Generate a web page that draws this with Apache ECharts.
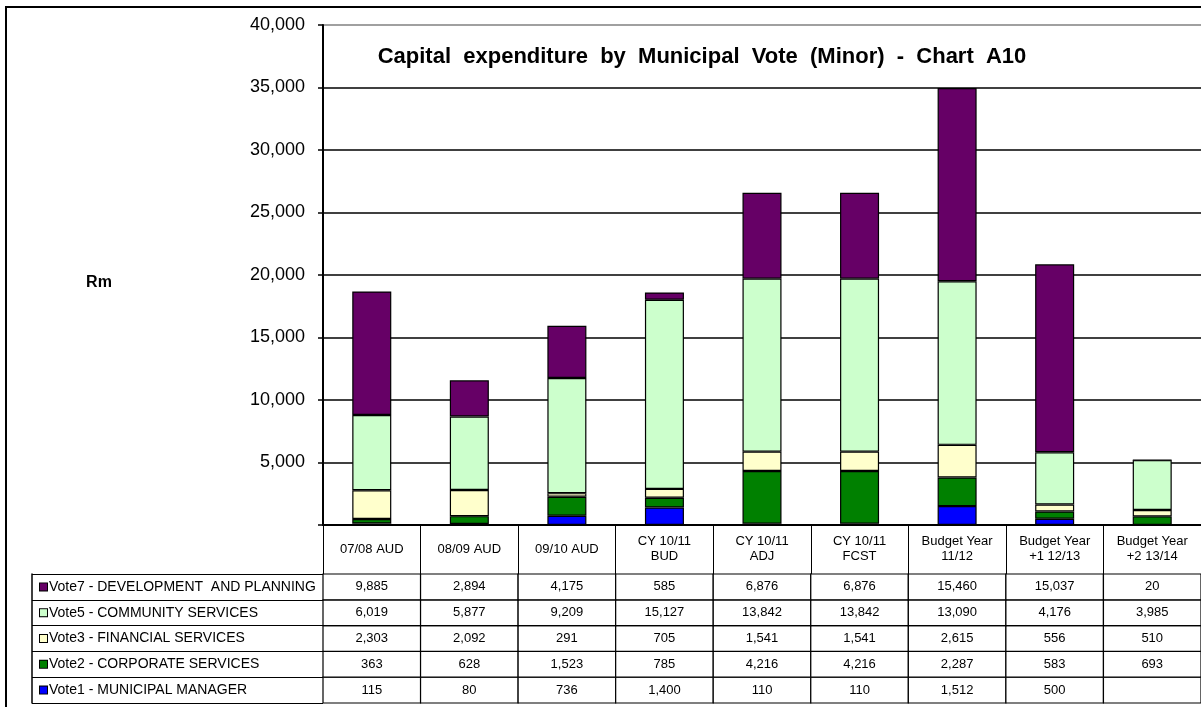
<!DOCTYPE html>
<html>
<head>
<meta charset="utf-8">
<title>Capital expenditure by Municipal Vote (Minor) - Chart A10</title>
<script src="https://cdn.jsdelivr.net/npm/echarts@6/dist/echarts.min.js"></script>
<style>
  html, body { margin: 0; padding: 0; background: #fff; }
  #chart { width: 1201px; height: 707px; }
</style>
</head>
<body>
<div id="chart"></div>
<script>
// Financial years shown along the category axis
var categories = [
  '07/08 AUD', '08/09 AUD', '09/10 AUD',
  'CY 10/11\nBUD', 'CY 10/11\nADJ', 'CY 10/11\nFCST',
  'Budget Year\n11/12', 'Budget Year\n+1 12/13', 'Budget Year\n+2 13/14'
];

// Capital expenditure per vote (Rm)
var vote1 = [115, 80, 736, 1400, 110, 110, 1512, 500, null];
var vote2 = [363, 628, 1523, 785, 4216, 4216, 2287, 583, 693];
var vote3 = [2303, 2092, 291, 705, 1541, 1541, 2615, 556, 510];
var vote5 = [6019, 5877, 9209, 15127, 13842, 13842, 13090, 4176, 3985];
var vote7 = [9885, 2894, 4175, 585, 6876, 6876, 15460, 15037, 20];

var seriesNames = {
  v1: 'Vote1 - MUNICIPAL MANAGER',
  v2: 'Vote2 - CORPORATE SERVICES',
  v3: 'Vote3 - FINANCIAL SERVICES',
  v5: 'Vote5 - COMMUNITY SERVICES',
  v7: 'Vote7 - DEVELOPMENT  AND PLANNING'
};

// Value axis ticks
var yMin = 0, yMax = 40000, yStep = 5000;

var FONT = '"Liberation Sans", Arial, Helvetica, sans-serif';

var colors = { v1: '#0000FF', v2: '#008000', v3: '#FFFFCC', v5: '#CCFFCC', v7: '#660066' };

// Rows of the data table, bottom to top on the category y axis
var rowKeys = ['v1', 'v2', 'v3', 'v5', 'v7'];
var rowValues = { v1: vote1, v2: vote2, v3: vote3, v5: vote5, v7: vote7 };

function fmt(v) {
  if (v === null || v === undefined) return '';
  return String(v).replace(/\B(?=(\d{3})+(?!\d))/g, ',');
}

// Cells for the data table: [column, row]
var tableCells = [];
var tableText = [];
rowKeys.forEach(function (k, r) {
  rowValues[k].forEach(function (v, c) {
    tableCells.push([c, r]);
    tableText.push(fmt(v));
  });
});

var richSquares = {};
rowKeys.forEach(function (k) {
  richSquares[k] = {
    width: 7, height: 7, backgroundColor: colors[k],
    borderColor: '#000', borderWidth: 1
  };
});
richSquares.t = { fontSize: 14, fontFamily: FONT, color: '#000', padding: [0, 0, 0, 2] };

function barSeries(key, data) {
  return {
    name: seriesNames[key],
    type: 'bar',
    stack: 'total',
    xAxisIndex: 0, yAxisIndex: 0,
    barWidth: '40%',
    data: data,
    itemStyle: { color: colors[key], borderColor: '#000', borderWidth: 1.2 },
    emphasis: { disabled: true },
    z: 3
  };
}

var chart = echarts.init(document.getElementById('chart'), null, { renderer: 'canvas' });

var gridColors = [];
for (var i = yMin; i < yMax; i += yStep) gridColors.push('#000');
gridColors.push('#808080');

chart.setOption({
  animation: false,
  backgroundColor: '#fff',
  textStyle: { fontFamily: FONT },
  title: {
    text: 'Capital  expenditure  by  Municipal  Vote  (Minor)  -  Chart  A10',
    left: 697, top: 41, textAlign: 'center',
    textStyle: { fontFamily: FONT, fontSize: 22, fontWeight: 'bold', color: '#000' }
  },
  graphic: [{
    type: 'rect', z: -10, silent: true,
    shape: { x: 6, y: 7, width: 1300, height: 800 },
    style: { fill: 'none', stroke: '#000', lineWidth: 2 }
  }, {
    type: 'text', silent: true,
    x: 99, y: 283,
    style: {
      text: 'Rm', align: 'center', verticalAlign: 'middle',
      font: 'bold 16px ' + FONT, fill: '#000'
    }
  }],
  grid: [
    { left: 323, top: 25, width: 881, height: 500 },
    { left: 323, top: 574, width: 881, height: 129 }
  ],
  xAxis: [{
    type: 'category', gridIndex: 0, data: categories,
    axisLine: { lineStyle: { color: '#000', width: 2 } },
    axisTick: { show: true, interval: 0, length: 49, lineStyle: { color: '#000', width: 1 } },
    axisLabel: {
      interval: 0, margin: 24, verticalAlign: 'middle', lineHeight: 15,
      fontSize: 13, fontFamily: FONT, color: '#000'
    },
    splitLine: { show: false }
  }, {
    type: 'category', gridIndex: 1, data: categories,
    axisLine: { show: false }, axisTick: { show: false }, axisLabel: { show: false }
  }],
  yAxis: [{
    type: 'value', gridIndex: 0, min: yMin, max: yMax, interval: yStep,
    axisLine: { show: true, lineStyle: { color: '#000', width: 2 } },
    axisTick: { show: true, length: 5, lineStyle: { color: '#000', width: 1.5 } },
    axisLabel: {
      margin: 18, fontSize: 18, fontFamily: FONT, color: '#000',
      formatter: function (v) { return v === 0 ? '' : fmt(v); }
    },
    splitLine: { show: true, lineStyle: { color: gridColors, width: 1.5 } }
  }, {
    type: 'category', gridIndex: 1, data: rowKeys,
    axisLine: { show: false },
    axisTick: { show: true, interval: 0, length: 291, lineStyle: { color: '#000', width: 1 } },
    axisLabel: {
      interval: 0, align: 'left', margin: 283,
      formatter: function (k) { return '{' + k + '|}{t|' + seriesNames[k] + '}'; },
      rich: richSquares
    }
  }, {
    type: 'category', gridIndex: 1, data: rowKeys, position: 'left', offset: 291,
    axisLine: { show: true, lineStyle: { color: '#000', width: 1.5 } },
    axisTick: { show: false }, axisLabel: { show: false }
  }],
  series: [
    barSeries('v1', vote1),
    barSeries('v2', vote2),
    barSeries('v3', vote3),
    barSeries('v5', vote5),
    barSeries('v7', vote7),
    {
      type: 'custom',
      xAxisIndex: 1, yAxisIndex: 1,
      data: tableCells,
      silent: true,
      renderItem: function (params, api) {
        var p = api.coord([api.value(0), api.value(1)]);
        var s = api.size([1, 1]);
        return {
          type: 'group',
          children: [{
            type: 'rect',
            shape: { x: p[0] - s[0] / 2, y: p[1] - s[1] / 2, width: s[0], height: s[1] },
            style: { fill: '#fff', stroke: '#000', lineWidth: 1.2 }
          }, {
            type: 'text',
            style: {
              x: p[0], y: p[1], text: tableText[params.dataIndex],
              align: 'center', verticalAlign: 'middle',
              font: '13px ' + FONT, fill: '#000'
            }
          }]
        };
      }
    }
  ]
});
</script>
</body>
</html>
